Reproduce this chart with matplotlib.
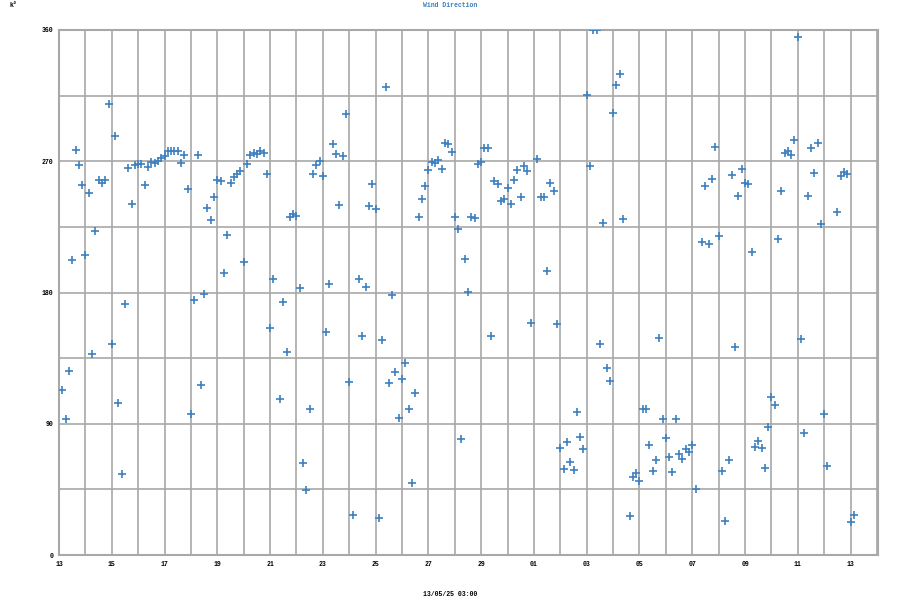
import numpy as np
import pandas as pd
import matplotlib
matplotlib.use('Agg')
import matplotlib.pyplot as plt
import matplotlib.dates as mdates

# wind direction readings, every 3 hours from 13/04/25 03:00 (nan = no reading)
start_time = '2025-04-13 03:00'
step = '3h'
direction = [
    112.9, 93.5, 126.2, 202.1, 277.6, 267.7, 253.7, 205.4, 248.5, 138.0,
    222.0, 257.4, 254.8, 257.4, 309.2, 144.7, 287.6, 104.0, 55.3, 172.4,
    265.1, 240.5, 267.5, 267.9, 267.9, 253.9, 266.3, 269.4, 268.6, 270.3,
    272.4, 273.8, 277.3, 276.8, 276.8, 276.8, 268.6, 274.5, 250.8, 97.0,
    174.7, 274.5, 116.6, 178.7, 237.7, 229.5, 245.7, 257.2, 256.5, 193.5,
    219.7, 254.8, 259.5, 261.4, 263.3, 200.7, 268.4, 274.5, 275.7, 275.0,
    277.1, 275.9, 261.2, 155.8, 189.0, np.nan, 107.3, 173.6, 138.9, 231.9,
    233.5, 232.3, 183.2, 63.2, 44.5, 100.0, 261.2, 267.5, 270.1, 260.2,
    152.9, 185.5, 281.8, 275.2, 239.8, 273.8, 302.1, 118.3, 27.4, np.nan,
    189.0, 150.4, 184.1, 239.4, 254.6, 237.5, 25.3, 147.6, 321.1, 117.8,
    178.5, 125.5, 94.2, 120.4, 131.4, 100.0, 49.2, 111.3, 231.9, 244.3,
    252.7, 263.7, 269.6, 268.9, 270.8, 264.9, 282.7, 281.8, 276.6, 231.9,
    223.7, 79.4, 202.8, 180.1, 231.9, 230.9, 268.4, 269.8, 279.2, 279.2,
    149.9, 256.7, 254.4, 242.9, 244.1, 251.8, 240.5, 256.9, 263.7, 245.2,
    267.0, 263.0, 159.3, np.nan, 271.7, 245.2, 245.2, 194.9, 255.3, 249.7,
    158.3, 73.1, 59.0, 77.8, 63.9, 58.1, 98.4, 80.8, 72.8, 315.3,
    266.8, 360.0, 360.0, 145.0, 227.7, 128.1, 119.2, 302.8, 322.3, 330.0,
    230.7, np.nan, 26.7, 53.6, 56.4, 50.8, 100.2, 100.2, 75.4, 57.4,
    65.1, 149.0, 93.5, 80.3, 67.2, 57.1, 93.5, 69.1, 65.6, 72.6,
    70.7, 75.2, 45.0, np.nan, 214.3, 253.2, 213.6, 257.9, 279.7, 219.0,
    57.4, 23.2, 64.9, 260.5, 142.4, 246.4, 264.9, 255.3, 254.1, 208.0,
    74.2, 78.5, 73.1, 59.7, 87.8, 108.4, 102.6, 216.7, 249.7, 275.9,
    276.8, 274.3, 284.3, 355.1, 147.8, 83.4, 245.9, 279.2, 261.9, 282.7,
    227.0, 96.5, 60.9, np.nan, np.nan, 234.9, 260.2, 262.6, 261.2, 22.3,
    27.2,
]
times = pd.date_range(start_time, periods=len(direction), freq=step)

title = 'Wind Direction'
unit = 'k°'
xlabel = '13/05/25 03:00'
y_ticks = [0, 90, 180, 270, 360]

font = {'family': 'Liberation Mono', 'weight': 'bold', 'size': 4.7}
gridcol = '#a8a8a8'

fig = plt.figure(figsize=(9, 6), dpi=100)
ax = fig.add_axes([0.0656, 0.075, 0.91, 0.875])

ax.plot(times, direction, linestyle='none', marker='+', markersize=6,
        markeredgewidth=1.2, color='#3d80c0', zorder=3)

ax.set_xlim(pd.Timestamp('2025-04-13 00:00'), pd.Timestamp('2025-05-14 01:00'))
ax.set_ylim(0, 360)

ax.xaxis.set_major_locator(mdates.DayLocator(bymonthday=range(1, 32, 2)))
ax.xaxis.set_minor_locator(mdates.DayLocator())
ax.xaxis.set_major_formatter(mdates.DateFormatter('%d'))
ax.set_yticks(y_ticks)
ax.set_yticks(range(45, 360, 90), minor=True)

ax.grid(True, which='both', color=gridcol, linewidth=1.2)
ax.set_axisbelow(True)
for s in ax.spines.values():
    s.set_color(gridcol)
    s.set_linewidth(1.5)
ax.tick_params(which='both', length=0, pad=4)
for lab in ax.get_xticklabels() + ax.get_yticklabels():
    lab.set_fontfamily(font['family'])
    lab.set_fontweight('bold')
    lab.set_fontsize(font['size'])

fig.text(0.5, 0.997, title, ha='center', va='top', color='#3d80c0',
         fontdict=font)
fig.text(0.011, 0.997, unit, ha='left', va='top', fontdict=font)
fig.text(0.5, 0.003, xlabel, ha='center', va='bottom', fontdict=font)

fig.savefig('out.png', dpi=100)
